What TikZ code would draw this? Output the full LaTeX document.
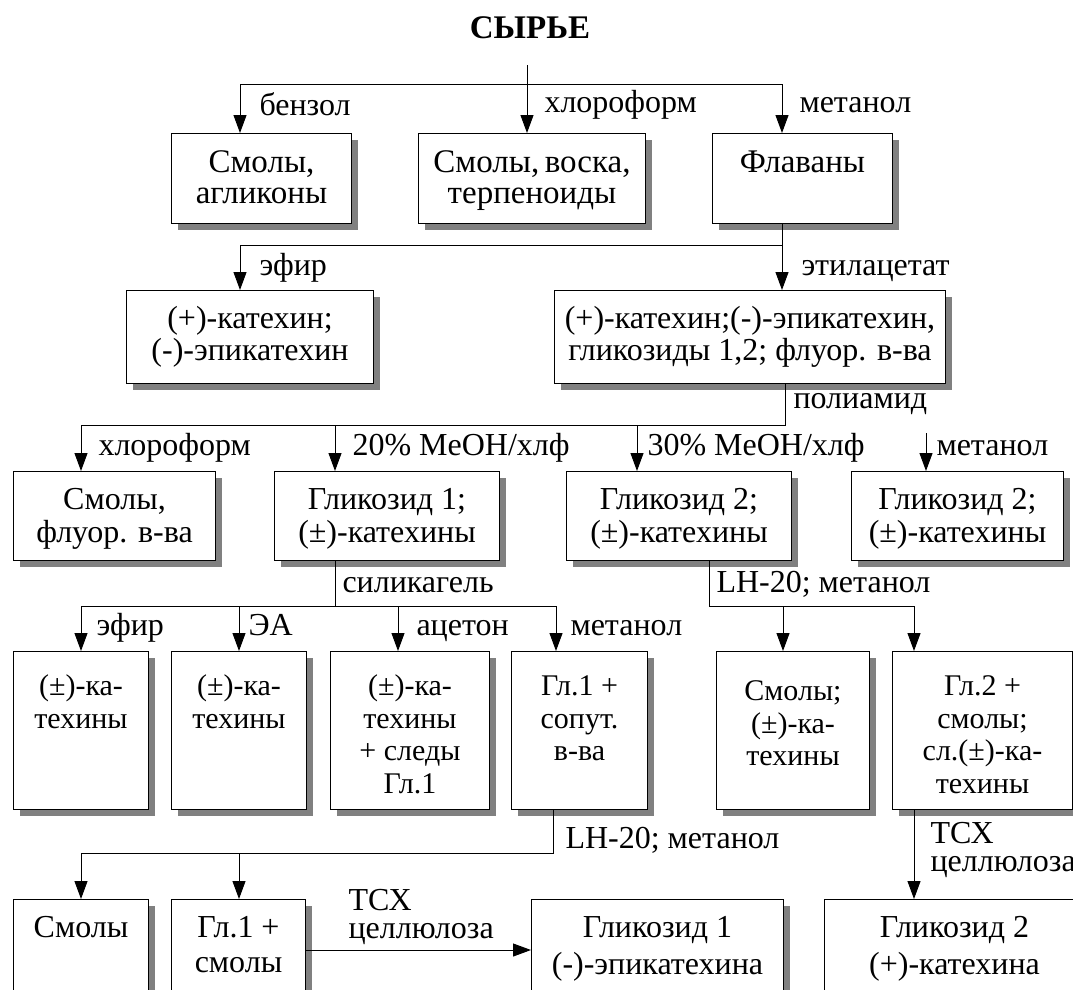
\documentclass[tikz,border=0pt]{standalone}
\usepackage{fontspec}
\setmainfont{Liberation Serif}
\usetikzlibrary{arrows.meta,shadows}
\begin{document}
\begin{tikzpicture}[x=1pt,y=-1pt,line width=1pt,
  flow/.style={-{Triangle[length=18pt,width=13pt]}},
  box/.style 2 args={draw, fill=white, inner sep=0pt, anchor=north west,
    minimum width=#1, minimum height=#2,
    drop shadow={shadow xshift=6pt, shadow yshift=-6pt, fill=black!50, opacity=1}},
  txt/.style={font=\fontsize{32}{31}\selectfont, align=center, inner sep=0pt, anchor=north},
  txtl/.style={txt, font=\fontsize{33}{31}\selectfont},
  txts/.style={txt, font=\fontsize{30}{31}\selectfont},
  lbl/.style={font=\fontsize{32}{31}\selectfont, inner sep=0pt, anchor=base west},
  lbl2/.style={font=\fontsize{32}{28}\selectfont, inner sep=0pt, align=left, anchor=north west}
]
\useasboundingbox (0,0) rectangle (1073,989);
\clip (0,0) rectangle (1073,989);

% title
\node[font=\fontsize{33}{33}\selectfont\bfseries, inner sep=0pt, anchor=base] (title) at (530,38) {СЫРЬЕ};

% row 1
\node[box={180pt}{90pt}] (b1) at (171,133) {};
\node[box={227pt}{90pt}] (b2) at (418,133) {};
\node[box={180pt}{90pt}] (b3) at (712,133) {};
\node[txtl] (b1t) at ([yshift=-17.3pt]b1.north) {\strut Смолы,\\\strut агликоны};
\node[txtl] (b2t) at ([yshift=-17.3pt]b2.north) {\strut Смолы,\,воска,\\\strut терпеноиды};
\node[txtl] (b3t) at ([yshift=-17.3pt]b3.north) {\strut Флаваны};

% row 2
\node[box={247pt}{93pt}] (c1) at (126,290) {};
\node[box={391pt}{93pt}] (c2) at (554,290) {};
\node[txt] (c1t) at ([yshift=-15.3pt]c1.north) {\strut (+)-катехин;\\\strut (-)-эпикатехин};
\node[txt] (c2t) at ([yshift=-15.3pt]c2.north) {\strut (+)-катехин;(-)-эпикатехин,\\\strut гликозиды 1,2; флуор. в-ва};

% row 3
\node[box={202pt}{89pt}] (d1) at (13,471) {};
\node[box={225pt}{89pt}] (d2) at (274,471) {};
\node[box={225pt}{89pt}] (d3) at (566,471) {};
\node[box={212pt}{89pt}] (d4) at (851,471) {};
\node[txt] (d1t) at ([yshift=-16.3pt]d1.north) {\strut Смолы,\\\strut флуор. в-ва};
\node[txt] (d2t) at ([yshift=-16.3pt]d2.north) {\strut Гликозид 1;\\\strut (±)-катехины};
\node[txt] (d3t) at ([yshift=-16.3pt]d3.north) {\strut Гликозид 2;\\\strut (±)-катехины};
\node[txt] (d4t) at ([yshift=-16.3pt]d4.north) {\strut Гликозид 2;\\\strut (±)-катехины};

% row 4
\node[box={135pt}{158pt}] (e1) at (13,651) {};
\node[box={135pt}{158pt}] (e2) at (171,651) {};
\node[box={159pt}{158pt}] (e3) at (330,651) {};
\node[box={136pt}{158pt}] (e4) at (511,651) {};
\node[box={153pt}{158pt}] (e5) at (716,651) {};
\node[box={180pt}{158pt}] (e6) at (892,651) {};
\node[txts] (e1t) at ([yshift=-22.3pt]e1.north) {\strut (±)-ка-\\[1.5pt]\strut техины};
\node[txts] (e2t) at ([yshift=-22.3pt]e2.north) {\strut (±)-ка-\\[1.5pt]\strut техины};
\node[txts] (e3t) at ([yshift=-22.3pt]e3.north) {\strut (±)-ка-\\[1.5pt]\strut техины\\[1.5pt]\strut + следы\\[1.5pt]\strut Гл.1};
\node[txts] (e4t) at ([yshift=-22.3pt]e4.north) {\strut Гл.1 +\\[1.5pt]\strut сопут.\\[1.5pt]\strut в-ва};
\node[txts] (e5t) at ([yshift=-27.3pt]e5.north) {\strut Смолы;\\[1.5pt]\strut (±)-ка-\\[1.5pt]\strut техины};
\node[txts] (e6t) at ([yshift=-22.3pt]e6.north) {\strut Гл.2 +\\[1.5pt]\strut смолы;\\[1.5pt]\strut сл.(±)-ка-\\[1.5pt]\strut техины};

% row 5
\node[box={135pt}{101pt}] (f1) at (13,899) {};
\node[box={134pt}{101pt}] (f2) at (171,899) {};
\node[box={252pt}{101pt}] (f3) at (531,899) {};
\node[box={260pt}{101pt}] (f4) at (824,899) {};
\node[txt] (f1t) at ([yshift=-16.3pt]f1.north) {\strut Смолы};
\node[txt] (f2t) at ([yshift=-16.3pt]f2.north) {\strut Гл.1 +\\[4pt]\strut смолы};
\node[txt] (f3t) at ([yshift=-16.3pt]f3.north) {\strut Гликозид 1\\[4pt]\strut (-)-эпикатехина};
\node[txt] (f4t) at ([yshift=-16.3pt]f4.north) {\strut Гликозид 2\\[4pt]\strut (+)-катехина};

% junction points
\coordinate (src) at (527,65);
\coordinate (h1l) at (240,84);  \coordinate (h1r) at (782,84);
\coordinate (h2l) at (240,245); \coordinate (h2r) at (782,245);
\coordinate (h3l) at (81,425);  \coordinate (h3b) at (335,425);
\coordinate (h3c) at (637,425); \coordinate (h3r) at (785,425);
\coordinate (h3d) at (926,433);
\coordinate (h4l) at (81,606);  \coordinate (h4b) at (239,606);
\coordinate (h4m) at (335,606); \coordinate (h4c) at (398,606);
\coordinate (h4r) at (556,606);
\coordinate (h4s) at (709,606); \coordinate (h4e) at (783,606);
\coordinate (h4f) at (914,606);
\coordinate (h5l) at (81,853);  \coordinate (h5b) at (239,853);
\coordinate (h5r) at (553,853);

% connectors: raw material
\draw (h1l) -- (h1r);
\draw[flow] (src) -- (src |- b2.north);
\draw[flow] (h1l) -- (h1l |- b1.north);
\draw[flow] (h1r) -- (h1r |- b3.north);

% flavans
\draw (h2r |- b3.south) -- (h2r) -- (h2l);
\draw[flow] (h2l) -- (h2l |- c1.north);
\draw[flow] (h2r) -- (h2r |- c2.north);

% polyamide
\draw (h3r |- c2.south) -- (h3r) -- (h3l);
\draw[flow] (h3l) -- (h3l |- d1.north);
\draw[flow] (h3b) -- (h3b |- d2.north);
\draw[flow] (h3c) -- (h3c |- d3.north);
\draw[flow] (h3d) -- (h3d |- d4.north);

% silica gel
\draw (h4m |- d2.south) -- (h4m);
\draw (h4l) -- (h4r);
\draw[flow] (h4l) -- (h4l |- e1.north);
\draw[flow] (h4b) -- (h4b |- e2.north);
\draw[flow] (h4c) -- (h4c |- e3.north);
\draw[flow] (h4r) -- (h4r |- e4.north);

% LH-20 for glycoside 2
\draw (h4s |- d3.south) -- (h4s) -- (h4f);
\draw[flow] (h4e) -- (h4e |- e5.north);
\draw[flow] (h4f) -- (h4f |- e6.north);

% LH-20 for glycoside 1
\draw (h5r |- e4.south) -- (h5r) -- (h5l);
\draw[flow] (h5l) -- (h5l |- f1.north);
\draw[flow] (h5b) -- (h5b |- f2.north);

% TLC steps
\draw[flow] (f2.east) -- (f3.west);
\draw[flow] (h4f |- e6.south) -- (h4f |- f4.north);

% solvent labels
\node[lbl] (l1) at (259,115) {бензол};
\node[lbl] (l2) at (544,112) {хлороформ};
\node[lbl] (l3) at (799,112) {метанол};
\node[lbl] (l4) at (259,275) {эфир};
\node[lbl] (l5) at (801,275) {этилацетат};
\node[lbl] (l6) at (793,408) {полиамид};
\node[lbl] (l7) at (98,455) {хлороформ};
\node[lbl] (l8) at (352,455) {20\% MeOH/хлф};
\node[lbl] (l9) at (647,455) {30\% MeOH/хлф};
\node[lbl] (l10) at (936,455) {метанол};
\node[lbl] (l11) at (342,592) {силикагель};
\node[lbl] (l12) at (716,592) {LH-20; метанол};
\node[lbl] (l13) at (96,635) {эфир};
\node[lbl] (l14) at (248,635) {ЭА};
\node[lbl] (l15) at (416,635) {ацетон};
\node[lbl] (l16) at (570,635) {метанол};
\node[lbl] (l17) at (565,848) {LH-20; метанол};
\node[lbl2] (l18) at (348,888.3) {ТСХ\\целлюлоза};
\node[lbl2] (l19) at (930,821.3) {ТСХ\\целлюлоза};
\end{tikzpicture}
\end{document}
